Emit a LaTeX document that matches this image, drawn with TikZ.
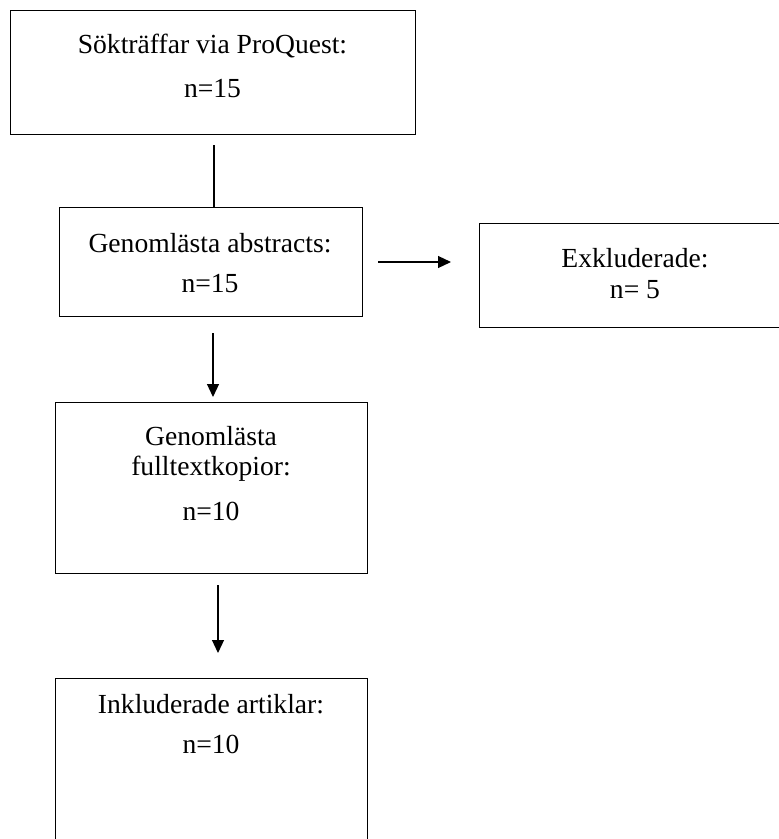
\documentclass[tikz,border=0pt]{standalone}
\usepackage{fontspec}
\setmainfont{Liberation Serif}
\usetikzlibrary{arrows.meta}
\begin{document}
\begin{tikzpicture}[x=1pt,y=-1pt,
  box/.style={draw,line width=1.3pt,inner sep=0pt,anchor=north west},
  txt/.style={anchor=base,inner sep=0pt,font=\fontsize{27.6}{32}\selectfont},
  conn/.style={line width=1.2pt},
  arr/.style={line width=1.2pt,-{Triangle[length=13pt,width=12pt]}}]
\useasboundingbox (0,0) rectangle (779,839);
\clip (0,0) rectangle (779,839);
\fill[white] (0,0) rectangle (779,839);
% boxes
\node[box,minimum width=405pt,minimum height=124pt] (b1) at (10,10) {};
\node[box,minimum width=303pt,minimum height=109pt] (b2) at (59,207) {};
\node[box,minimum width=310pt,minimum height=104pt] (b3) at (479,223) {};
\node[box,minimum width=312pt,minimum height=171pt] (b4) at (55,402) {};
\node[box,minimum width=312pt,minimum height=180pt] (b5) at (55,678) {};
% texts
\node[txt] (t1a) at (212.5,53) {Sökträffar via ProQuest:};
\node[txt] (t1b) at (212.5,97) {n=15};
\node[txt] (t2a) at (210,252) {Genomlästa abstracts:};
\node[txt] (t2b) at (210,292) {n=15};
\node[txt] (t3a) at (635,267) {Exkluderade:};
\node[txt] (t3b) at (635,298) {n= 5};
\node[txt] (t4a) at (211,445) {Genomlästa};
\node[txt] (t4b) at (211,475) {fulltextkopior:};
\node[txt] (t4c) at (211,520) {n=10};
\node[txt] (t5a) at (211,713) {Inkluderade artiklar:};
\node[txt] (t5b) at (211,753) {n=10};
% connectors
\coordinate (c1) at (214,145);
\draw[conn] (c1) -- (c1 |- b2.north);
\coordinate (c2s) at (378,262);
\coordinate (c2e) at (451,262);
\draw[arr] (c2s) -- (c2e);
\coordinate (c3s) at (213,333);
\coordinate (c3e) at (213,397);
\draw[arr] (c3s) -- (c3e);
\coordinate (c4s) at (218,585);
\coordinate (c4e) at (218,653);
\draw[arr] (c4s) -- (c4e);
\end{tikzpicture}
\end{document}
